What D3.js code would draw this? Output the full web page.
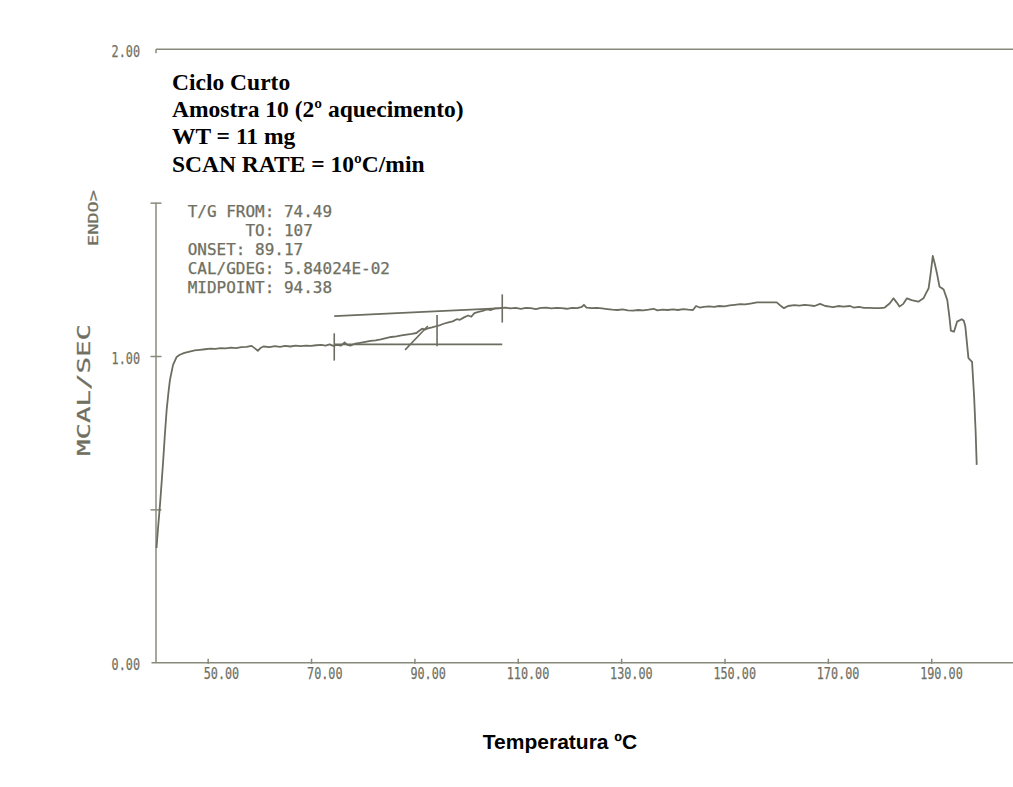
<!DOCTYPE html>
<html>
<head>
<meta charset="utf-8">
<script src="https://cdn.jsdelivr.net/npm/d3@7"></script>
<style>
  html, body { margin: 0; padding: 0; background: #ffffff; }
  svg { display: block; }
  .plot-text { font-family: "DejaVu Sans Mono", "Liberation Mono", monospace; fill: #6f6f62; stroke: #6f6f62; stroke-width: 0.25px; white-space: pre; }
  .note { font-family: "Liberation Serif", "Times New Roman", serif; font-weight: bold; fill: #000; }
  .title { font-family: "Liberation Sans", Arial, sans-serif; font-weight: bold; fill: #000; }
</style>
</head>
<body>
<svg id="chart" width="1013" height="787"></svg>
<script>
// DSC trace: temperature (°C) and heat flow (mcal/s)
const temps = [
  40.1, 40.4, 40.8, 41.1, 41.4, 41.7, 42.06, 42.4, 42.7, 43.3, 44.0, 44.6, 45.5, 46.5, 47.5, 48.5, 49.5,
  50.5, 51.5, 52.5, 53.5, 54.5, 55.5, 56.5, 57.5, 58.5, 59.2, 59.7, 60.2, 60.8, 62, 63, 64, 65, 66, 67,
  68, 69, 70, 71, 72, 72.8, 73.6, 74.3, 75, 75.8, 76.5, 77, 77.6, 78.5, 79.5, 80.5, 81.5, 82.5, 83.5,
  84.5, 85.5, 86.5, 87.5, 88.5, 89.5, 90.4, 91.0, 91.5, 92.0, 92.6, 93.4, 94.2, 95.0, 95.8, 96.6, 97.4,
  98.2, 98.8, 99.6, 100.4, 101.0, 101.6, 102.4, 103.2, 104.0, 104.8, 105.6, 106.6, 107.6, 108.6, 109.6,
  110.6, 111.6, 112.5, 113.5, 114.5, 115.5, 116.5, 117.5, 118.5, 119.5, 120.5, 121.5, 122.4, 122.8,
  123.3, 124.3, 125.3, 126.3, 127.3, 128.3, 129.3, 130.3, 131.3, 132.3, 133.3, 134.3, 135.3, 136.3,
  137, 138, 139, 140, 141, 142, 143, 143.9, 144.5, 145.2, 146, 147, 148, 149, 150, 151, 152, 153, 154,
  155, 156.3, 158, 160.1, 161.0, 161.5, 162.3, 163.5, 164.5, 165.5, 166.5, 167.4, 168.5, 169.5, 170.4,
  171.0, 172, 173, 174.3, 175, 176, 177.0, 178, 179, 180.1, 181, 182, 182.7, 183.3, 183.85, 184.6,
  185.3, 186.2, 187.5, 188.5, 189.0, 189.5, 189.9, 190.3, 190.7, 191.1, 191.6, 192.0, 192.4, 193.1,
  193.5, 193.8, 194.4, 195.0, 195.9, 196.3, 196.6, 197.2, 197.9, 198.3, 198.6, 198.8
];
const heatFlow = [
  0.374, 0.44, 0.521, 0.59, 0.661, 0.74, 0.824, 0.88, 0.922, 0.971, 0.997, 1.004, 1.010, 1.014, 1.018, 1.020, 1.022,
  1.024, 1.023, 1.026, 1.025, 1.027, 1.026, 1.029, 1.030, 1.033, 1.024, 1.017, 1.026, 1.031, 1.029, 1.032, 1.030, 1.033, 1.031, 1.034,
  1.032, 1.034, 1.033, 1.035, 1.036, 1.034, 1.038, 1.033, 1.036, 1.034, 1.044, 1.036, 1.034, 1.040, 1.043, 1.046, 1.049, 1.051, 1.054,
  1.058, 1.062, 1.064, 1.067, 1.070, 1.072, 1.075, 1.083, 1.089, 1.086, 1.090, 1.093, 1.097, 1.101, 1.106, 1.110, 1.113,
  1.120, 1.118, 1.126, 1.132, 1.128, 1.140, 1.144, 1.147, 1.152, 1.150, 1.155, 1.156, 1.158, 1.155, 1.157,
  1.154, 1.157, 1.156, 1.153, 1.157, 1.158, 1.155, 1.157, 1.156, 1.154, 1.157, 1.156, 1.160, 1.167,
  1.158, 1.156, 1.157, 1.155, 1.153, 1.151, 1.150, 1.152, 1.149, 1.148, 1.150, 1.149, 1.151, 1.154,
  1.149, 1.151, 1.150, 1.152, 1.150, 1.153, 1.151, 1.150, 1.163, 1.158, 1.160, 1.162, 1.160, 1.163, 1.162, 1.165, 1.167, 1.169, 1.168,
  1.171, 1.175, 1.175, 1.175, 1.162, 1.156, 1.163, 1.166, 1.164, 1.167, 1.165, 1.163, 1.170, 1.163, 1.161,
  1.159, 1.163, 1.161, 1.163, 1.158, 1.160, 1.157, 1.157, 1.156, 1.156, 1.158, 1.172, 1.188, 1.175, 1.161, 1.170,
  1.188, 1.182, 1.177, 1.188, 1.205, 1.221, 1.27, 1.326, 1.30, 1.270, 1.226, 1.222, 1.217, 1.183,
  1.13, 1.083, 1.079, 1.112, 1.120, 1.115, 1.096, 0.993, 0.981, 0.867, 0.75, 0.645
];

// Axis ticks
const xTicks = [50, 70, 90, 110, 130, 150, 170, 190];
const yMarkTicks = [0.5, 1.0, 1.5];
const yLabelTicks = [0, 1, 2];

// Glass-transition analysis construction
const markerTemps = [74.49, 94.38, 107];
const markerLow = [0.985, 1.032, 1.109];
const markerHigh = [1.074, 1.134, 1.201];
const baseTemps = [74.49, 107];
const lowerBase = [1.038, 1.038];
const upperBase = [1.130, 1.156];
const tangentTemps = [88.2, 92.6];
const tangentVals = [1.020, 1.098];

// Annotation text
const notes = ["Ciclo Curto", "Amostra 10 (2º aquecimento)", "WT = 11 mg", "SCAN RATE = 10ºC/min"];
const results = [
  { label: "T/G FROM: 74.49", indent: 0 },
  { label: "TO: 107", indent: 6 },
  { label: "ONSET: 89.17", indent: 0 },
  { label: "CAL/GDEG: 5.84024E-02", indent: 0 },
  { label: "MIDPOINT: 94.38", indent: 0 }
];

const svg = d3.select("#chart");
const axisColor = "#8a8a7c";
const traceColor = "#6c6c60";

const x = d3.scaleLinear().domain([40, 203.5]).range([156, 1001]);
const y = d3.scaleLinear().domain([0, 2]).range([662.7, 49.3]);

const tickFontSize = 16;
const tickPitch = 7.1;

// Top reference line at 2.00
svg.append("line")
  .attr("x1", x(40)).attr("x2", 1013)
  .attr("y1", y(2)).attr("y2", y(2))
  .attr("stroke", axisColor).attr("stroke-width", 1.5);
svg.append("line")
  .attr("x1", x(40)).attr("x2", x(40))
  .attr("y1", y(2)).attr("y2", y(2) + 4)
  .attr("stroke", axisColor).attr("stroke-width", 1.5);

// Vertical axis from 0 to 1.5
svg.append("line")
  .attr("x1", x(40)).attr("x2", x(40))
  .attr("y1", y(1.5)).attr("y2", y(0))
  .attr("stroke", axisColor).attr("stroke-width", 1.5);

// Horizontal axis
svg.append("line")
  .attr("x1", x(40) - 4.5).attr("x2", 1013)
  .attr("y1", y(0)).attr("y2", y(0))
  .attr("stroke", axisColor).attr("stroke-width", 1.5);

// X axis ticks and labels
const xAxis = d3.axisBottom(x)
  .tickValues(xTicks)
  .tickSizeInner(-4)
  .tickSizeOuter(0)
  .tickPadding(5)
  .tickFormat(d3.format(".2f"));
const gx = svg.append("g").attr("transform", `translate(0,${y(0)})`).call(xAxis);
gx.select(".domain").remove();
gx.selectAll(".tick line").attr("stroke", axisColor).attr("stroke-width", 1.5).attr("y2", -4).attr("y1", 1.3);
gx.selectAll(".tick text")
  .attr("class", "plot-text")
  .attr("text-anchor", "end")
  .attr("x", 31)
  .attr("font-size", tickFontSize)
  .attr("textLength", function () { return this.textContent.length * tickPitch; })
  .attr("lengthAdjust", "spacingAndGlyphs");

// Y axis tick marks (crossing the axis)
const yMarks = d3.axisLeft(y).tickValues(yMarkTicks).tickSizeInner(5.5).tickSizeOuter(0).tickFormat("");
const gy = svg.append("g").attr("transform", `translate(${x(40)},0)`).call(yMarks);
gy.select(".domain").remove();
gy.selectAll(".tick line").attr("stroke", axisColor).attr("stroke-width", 1.5).attr("x1", 5.5);

// Y axis labels
const yLabels = d3.axisLeft(y).tickValues(yLabelTicks).tickSize(0).tickPadding(16).tickFormat(d3.format(".2f"));
const gyl = svg.append("g").attr("transform", `translate(${x(40)},2)`).call(yLabels);
gyl.select(".domain").remove();
gyl.selectAll(".tick text")
  .attr("class", "plot-text")
  .attr("font-size", tickFontSize)
  .attr("textLength", function () { return this.textContent.length * tickPitch; })
  .attr("lengthAdjust", "spacingAndGlyphs");

// Y axis titles
svg.append("text")
  .attr("class", "plot-text")
  .attr("transform", "translate(89.5,390) rotate(-90)")
  .attr("text-anchor", "middle")
  .attr("font-size", 17)
  .attr("textLength", 132)
  .attr("lengthAdjust", "spacingAndGlyphs")
  .text("MCAL/SEC");
svg.append("text")
  .attr("class", "plot-text")
  .attr("transform", "translate(97.5,218) rotate(-90)")
  .attr("text-anchor", "middle")
  .attr("font-size", 14.5)
  .attr("textLength", 56)
  .attr("lengthAdjust", "spacingAndGlyphs")
  .text("ENDO>");

// Analysis results block
const resPitch = 9.63;
svg.append("g").selectAll("text")
  .data(results)
  .join("text")
  .attr("class", "plot-text")
  .attr("x", d => 187.7 + d.indent * resPitch)
  .attr("y", (d, i) => 216.7 + i * 19.15)
  .attr("font-size", 15)
  .attr("textLength", d => d.label.length * resPitch)
  .attr("lengthAdjust", "spacingAndGlyphs")
  .text(d => d.label);

// Construction lines
const seg = (t1, v1, t2, v2) => svg.append("line")
  .attr("x1", x(t1)).attr("y1", y(v1)).attr("x2", x(t2)).attr("y2", y(v2))
  .attr("stroke", traceColor).attr("stroke-width", 1.6);
seg(baseTemps[0], lowerBase[0], baseTemps[1], lowerBase[1]);
seg(baseTemps[0], upperBase[0], baseTemps[1], upperBase[1]);
seg(tangentTemps[0], tangentVals[0], tangentTemps[1], tangentVals[1]);
markerTemps.forEach((t, i) => seg(t, markerLow[i], t, markerHigh[i]));

// Heat-flow trace
const line = d3.line().x(d => x(d[0])).y(d => y(d[1]));
svg.append("path")
  .datum(d3.zip(temps, heatFlow))
  .attr("d", line)
  .attr("fill", "none")
  .attr("stroke", traceColor)
  .attr("stroke-width", 1.8)
  .attr("stroke-linejoin", "round");

// Sample notes
svg.append("g").selectAll("text")
  .data(notes)
  .join("text")
  .attr("class", "note")
  .attr("x", 172)
  .attr("y", (d, i) => 90 + i * 27.2)
  .attr("font-size", 23.5)
  .text(d => d);

// X axis title
svg.append("text")
  .attr("class", "title")
  .attr("x", 560)
  .attr("y", 749)
  .attr("text-anchor", "middle")
  .attr("font-size", 21)
  .text("Temperatura ºC");
</script>
</body>
</html>
